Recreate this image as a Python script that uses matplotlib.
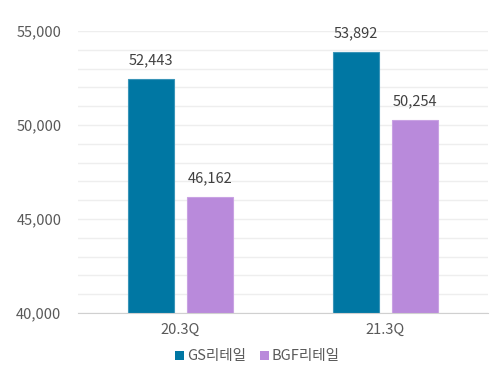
import matplotlib
matplotlib.use("Agg")
import matplotlib.pyplot as plt
import numpy as np
from matplotlib.ticker import FuncFormatter, MultipleLocator

plt.rcParams['font.family'] = ['Noto Sans CJK KR', 'DejaVu Sans']

categories = ["20.3Q", "21.3Q"]
series_names = ["GS리테일", "BGF리테일"]
gs_values = [52443, 53892]
bgf_values = [46162, 50254]
colors = ["#0077A3", "#B98ADB"]
edge_colors = ["#3A95B8", "#C9A2E3"]

fig = plt.figure(figsize=(5.0, 3.76), dpi=100)
ax = fig.add_axes([0.156, 0.1676, 0.82, 0.75])

x = np.arange(len(categories))
w = 0.22
off = 0.144
for vals, dx, c, ec, name in zip([gs_values, bgf_values], [-off, off], colors, edge_colors, series_names):
    bars = ax.bar(x + dx, vals, width=w, color=c, edgecolor=ec, linewidth=0.8, label=name, zorder=3)
    for b, v in zip(bars, vals):
        ax.text(b.get_x() + b.get_width() / 2, v + 620, f"{v:,}", ha="center", va="bottom",
                fontsize=10.5, color="#404040")

ax.set_ylim(40000, 55000)
ax.set_xlim(-0.5, 1.5)
ax.yaxis.set_major_locator(MultipleLocator(5000))
ax.yaxis.set_minor_locator(MultipleLocator(1000))
ax.yaxis.set_major_formatter(FuncFormatter(lambda v, p: f"{int(v):,}"))
ax.grid(axis="y", which="both", color="#EEEEEE", linewidth=1.0, zorder=0)
ax.set_xticks(x)
ax.set_xticklabels(categories)
ax.tick_params(axis="both", which="both", length=0, labelsize=10.5, labelcolor="#595959")
ax.tick_params(axis="y", pad=12)
ax.tick_params(axis="x", pad=7)
for s in ["top", "right", "left"]:
    ax.spines[s].set_visible(False)
ax.spines["bottom"].set_color("#D0D0D0")
ax.spines["bottom"].set_zorder(4)

leg = fig.legend(loc="center", bbox_to_anchor=(0.515, 0.052), ncol=2, frameon=False,
                 fontsize=10.5, handlelength=0.6, handleheight=0.6, handletextpad=0.2,
                 columnspacing=1.0, labelcolor="#595959")
for h in leg.legend_handles:
    h.set_edgecolor("none")

fig.savefig("out.png", dpi=100)
